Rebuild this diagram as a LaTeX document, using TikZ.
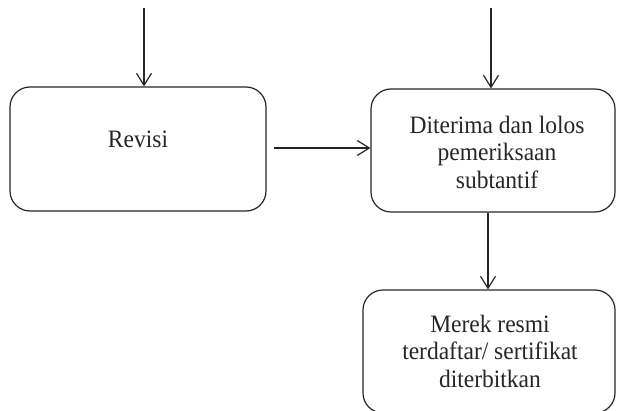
\documentclass[tikz,border=0pt]{standalone}
\usepackage{fontspec}
\setmainfont[FakeStretch=0.94]{Liberation Serif}
\usetikzlibrary{arrows.meta}
\begin{document}
\begin{tikzpicture}[x=1pt,y=-1pt,
  box/.style={draw=black!85, line width=1.2pt, rounded corners=20pt, inner sep=0pt},
  lbl/.style={align=center, text=black!85, font=\fontsize{25}{27.5}\selectfont},
  arr/.style={draw=black!85, line width=1.2pt, -{Straight Barb[length=12pt,width=15pt,line width=1.2pt]}}]
\useasboundingbox (0,0) rectangle (617,411);
\node[box, minimum width=256pt, minimum height=124pt] (revisi) at (138,149) {};
\node[lbl] (revisit) at (138,139) {Revisi};
\node[box, minimum width=244pt, minimum height=123pt] (box2) at (493,150.5) {};
\node[lbl] (box2t) at (497,152) {Diterima dan lolos\\pemeriksaan\\subtantif};
\node[box, minimum width=252pt, minimum height=123pt] (box3) at (489,351.5) {};
\node[lbl] (box3t) at (490,351) {Merek resmi\\terdaftar/ sertifikat\\diterbitkan};
\coordinate (s1) at (144,8);
\coordinate (s2) at (491,8);
\coordinate (s3) at (274,148);
\coordinate (d) at (488,0);
\draw[arr] (s1) -- (s1 |- revisi.north);
\draw[arr] (s2) -- (s2 |- box2.north);
\draw[arr] (s3) -- (s3 -| box2.west);
\draw[arr] (d |- box2.south) -- (d |- box3.north);
\end{tikzpicture}
\end{document}
